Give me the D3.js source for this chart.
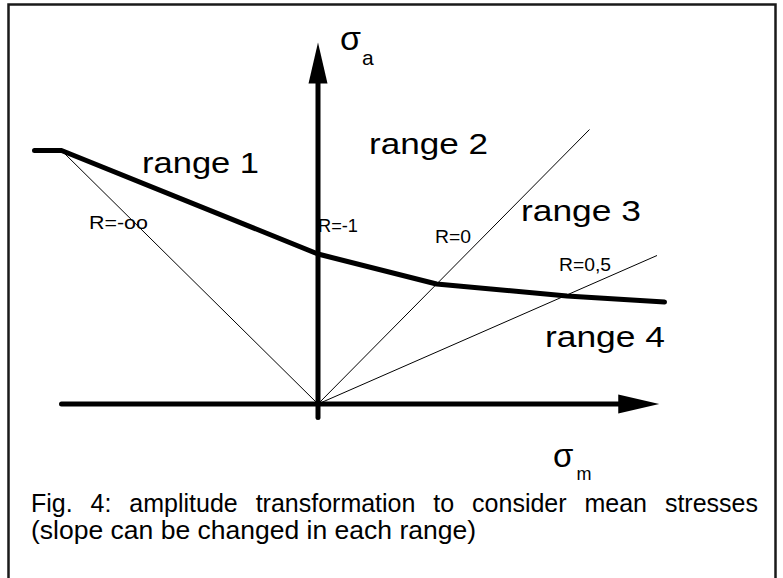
<!DOCTYPE html>
<html>
<head>
<meta charset="utf-8">
<script src="https://cdn.jsdelivr.net/npm/d3@7/dist/d3.min.js"></script>
<style>
  html, body { margin: 0; padding: 0; background: #fff; }
  svg { display: block; }
  text { font-family: Arial, "Liberation Sans", Helvetica, sans-serif; fill: #000; }
</style>
</head>
<body>
<svg id="chart" width="783" height="578"></svg>
<script>
// Mean-stress amplitude transformation (Haigh-type diagram), normalised so
// that the amplitude at R = -1 equals 1.

// Transformation curve: sigma_m (mean) and sigma_a (amplitude) break points
const curveSigmaM = [-1.89, -1.71, 0.00, 0.79, 1.66, 2.31];
const curveSigmaA = [ 1.69,  1.69, 1.00, 0.80, 0.72, 0.68];

// Constant-R rays from the origin (R = -1 lies on the sigma_a axis)
const rayNames  = ["R=-oo", "R=-1", "R=0", "R=0,5"];
const rayEndM   = [-1.71, 0.00, 1.81, 2.26];
const rayEndA   = [ 1.69, 1.12, 1.83, 0.99];

// Range names
const rangeNames = ["range 1", "range 2", "range 3", "range 4"];

// Caption
const captionLines = [
  "Fig. 4: amplitude transformation to consider mean stresses",
  "(slope can be changed in each range)"
];

const svg = d3.select("#chart");

const x = d3.scaleLinear().domain([-2, 2.5]).range([18, 693]);
const y = d3.scaleLinear().domain([0, 2.4]).range([404, 44]);

// frame
svg.append("rect")
  .attr("x", 8.5).attr("y", 4.5)
  .attr("width", 767).attr("height", 620)
  .attr("fill", "none").attr("stroke", "#1a1a1a").attr("stroke-width", 2.5);

// thin constant-R rays (skip R=-1, it is the vertical axis)
const rays = rayNames.map((n, i) => ({ name: n, m: rayEndM[i], a: rayEndA[i] }))
  .filter(d => d.name !== "R=-1");
svg.append("g").selectAll("line").data(rays).join("line")
  .attr("x1", x(0)).attr("y1", y(0))
  .attr("x2", d => x(d.m)).attr("y2", d => y(d.a))
  .attr("stroke", "#000").attr("stroke-width", 1);

// axes with arrow heads
const axisW = 5, headL = 41, headH = 9.5;
const xAxisFrom = -1.71, xAxisTip = 2.275;
const yAxisFrom = -0.09, yAxisTip = 2.41;

svg.append("line")
  .attr("x1", x(xAxisFrom)).attr("y1", y(0))
  .attr("x2", x(xAxisTip) - headL + 2).attr("y2", y(0))
  .attr("stroke", "#000").attr("stroke-width", axisW).attr("stroke-linecap", "round");
svg.append("path")
  .attr("d", `M${x(xAxisTip)},${y(0)} L${x(xAxisTip) - headL},${y(0) - headH} L${x(xAxisTip) - headL},${y(0) + headH} Z`)
  .attr("fill", "#000");

svg.append("line")
  .attr("x1", x(0)).attr("y1", y(yAxisFrom))
  .attr("x2", x(0)).attr("y2", y(yAxisTip) + headL - 2)
  .attr("stroke", "#000").attr("stroke-width", axisW).attr("stroke-linecap", "round");
svg.append("path")
  .attr("d", `M${x(0)},${y(yAxisTip)} L${x(0) - headH},${y(yAxisTip) + headL} L${x(0) + headH},${y(yAxisTip) + headL} Z`)
  .attr("fill", "#000");

// transformation curve
const curve = curveSigmaM.map((m, i) => [m, curveSigmaA[i]]);
svg.append("path")
  .datum(curve)
  .attr("d", d3.line().x(d => x(d[0])).y(d => y(d[1])))
  .attr("fill", "none").attr("stroke", "#000")
  .attr("stroke-width", 5).attr("stroke-linejoin", "round").attr("stroke-linecap", "round");

// range labels: anchor (sigma_m, sigma_a) at text start / baseline, drawn width
const rangeLayout = [
  { m: -1.173, a: 1.540, w: 117 },
  { m:  0.340, a: 1.667, w: 119 },
  { m:  1.353, a: 1.220, w: 120 },
  { m:  1.513, a: 0.380, w: 120 }
];
svg.append("g").selectAll("text").data(rangeNames).join("text")
  .attr("x", (d, i) => x(rangeLayout[i].m))
  .attr("y", (d, i) => y(rangeLayout[i].a))
  .attr("font-size", 29)
  .attr("textLength", (d, i) => rangeLayout[i].w)
  .attr("lengthAdjust", "spacingAndGlyphs")
  .text(d => d);

// R labels
const rLayout = [
  { m: -1.527, a: 1.167, w: 59 },
  { m:  0.000, a: 1.147, w: 40 },
  { m:  0.780, a: 1.073, w: 36 },
  { m:  1.607, a: 0.887, w: 52 }
];
svg.append("g").selectAll("text").data(rayNames).join("text")
  .attr("x", (d, i) => x(rLayout[i].m))
  .attr("y", (d, i) => y(rLayout[i].a))
  .attr("font-size", 19)
  .attr("textLength", (d, i) => rLayout[i].w)
  .attr("lengthAdjust", "spacingAndGlyphs")
  .text(d => d);

// axis titles: sigma with subscript
function sigmaTitle(px, py, sub, subDx, subDy, size, subSize) {
  const t = svg.append("text").attr("x", px).attr("y", py);
  t.append("tspan").attr("font-size", size).text("σ");
  t.append("tspan").attr("font-size", subSize).attr("dx", subDx).attr("dy", subDy).text(sub);
}
sigmaTitle(x(0) + 22, y(0) - 354, "a", 1, 15, 34, 21);
sigmaTitle(x(0) + 235, y(0) + 63, "m", 3, 13, 33, 18);

// caption, first line justified to the frame width
const capLeft = 31, capRight = 758;
const cap1 = svg.append("text")
  .attr("x", capLeft).attr("y", 512)
  .attr("font-size", 25)
  .text(captionLines[0]);
const natural = cap1.node().getComputedTextLength();
const gaps = captionLines[0].split(" ").length - 1;
cap1.attr("word-spacing", Math.max(0, (capRight - capLeft - natural) / gaps));

svg.append("text")
  .attr("x", capLeft).attr("y", 539)
  .attr("font-size", 25)
  .attr("textLength", 445)
  .attr("lengthAdjust", "spacingAndGlyphs")
  .text(captionLines[1]);
</script>
</body>
</html>
